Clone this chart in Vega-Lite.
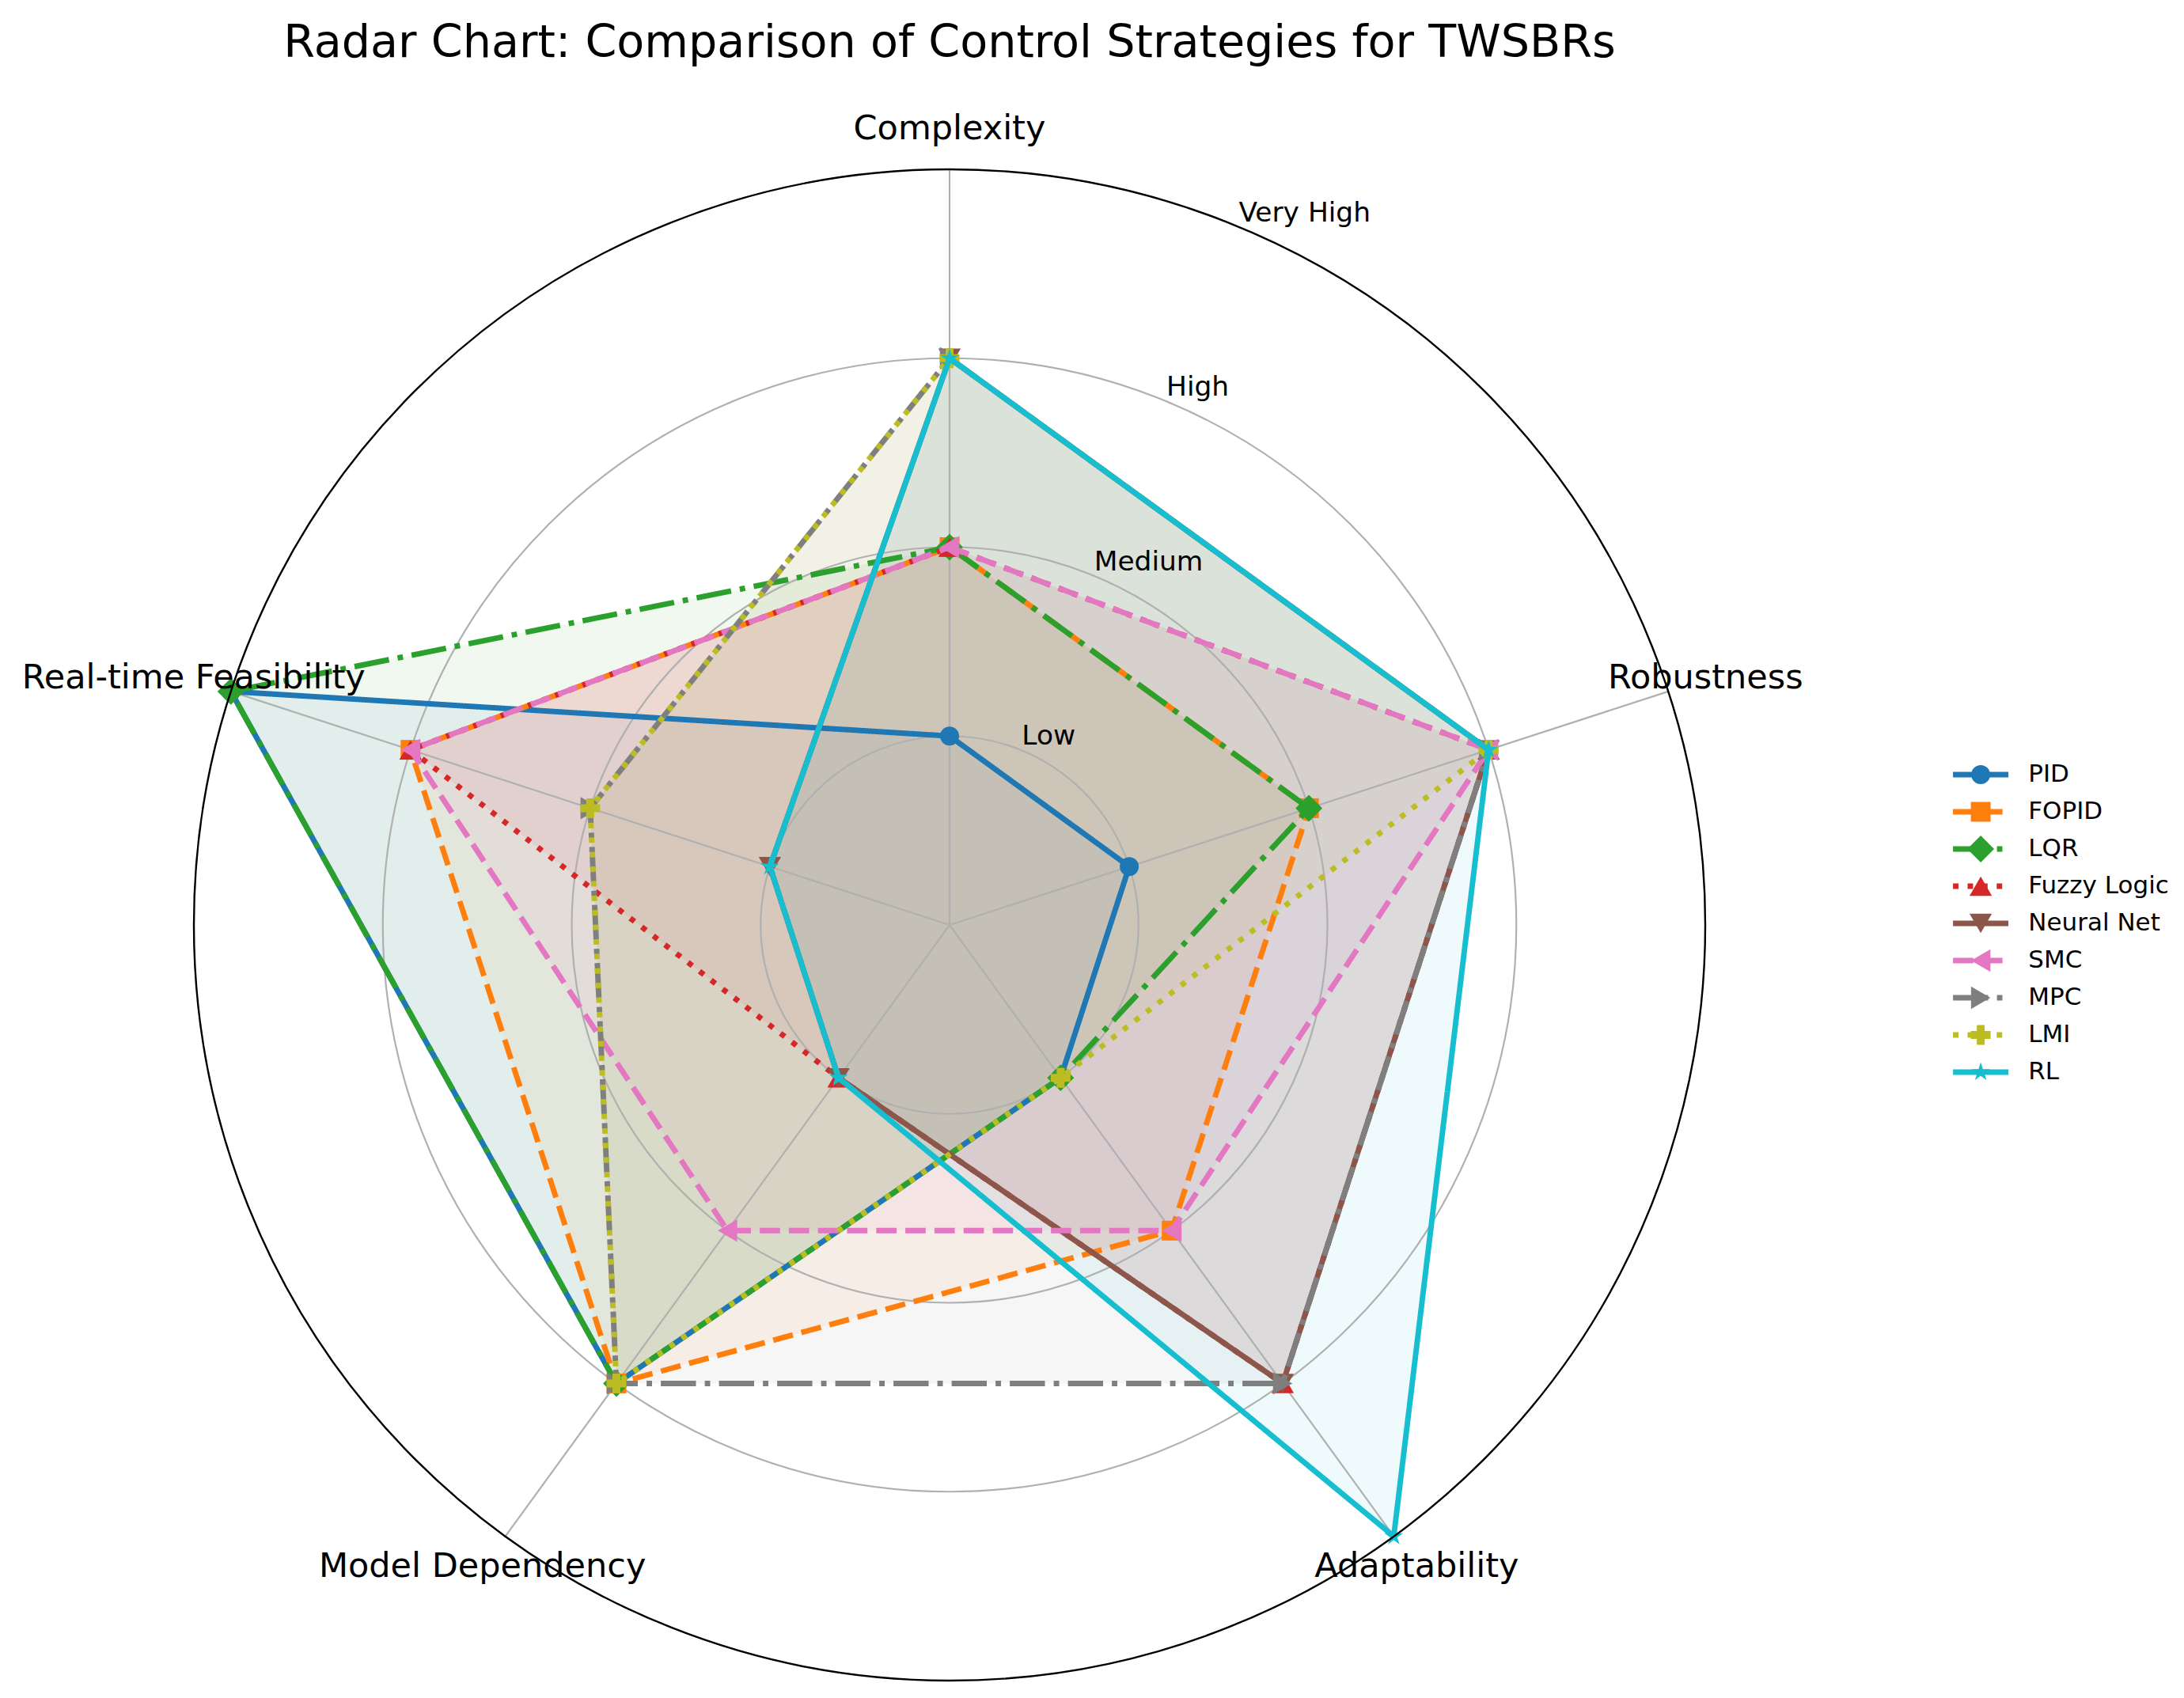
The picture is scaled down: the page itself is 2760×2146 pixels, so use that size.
{
  "$schema": "https://vega.github.io/schema/vega-lite/v6.json",
  "width": 2760,
  "height": 2046,
  "autosize": {"type": "none"},
  "padding": {"left": 0, "top": 100, "right": 0, "bottom": 0},
  "background": "white",
  "title": {"text": "Radar Chart: Comparison of Control Strategies for TWSBRs", "fontSize": 57.2, "font": "DejaVu Sans", "fontWeight": "normal", "color": "#000000", "anchor": "middle", "frame": "group", "dx": -180, "offset": 16},
  "config": {"view": {"stroke": null}, "font": "DejaVu Sans", "text": {"font": "DejaVu Sans"}},
  "datasets": {
    "ratings": [
      {"strategy": "PID", "criterion": "Complexity", "value": 1},
      {"strategy": "PID", "criterion": "Robustness", "value": 1},
      {"strategy": "PID", "criterion": "Adaptability", "value": 1},
      {"strategy": "PID", "criterion": "Model Dependency", "value": 3},
      {"strategy": "PID", "criterion": "Real-time Feasibility", "value": 4},
      {"strategy": "FOPID", "criterion": "Complexity", "value": 2},
      {"strategy": "FOPID", "criterion": "Robustness", "value": 2},
      {"strategy": "FOPID", "criterion": "Adaptability", "value": 2},
      {"strategy": "FOPID", "criterion": "Model Dependency", "value": 3},
      {"strategy": "FOPID", "criterion": "Real-time Feasibility", "value": 3},
      {"strategy": "LQR", "criterion": "Complexity", "value": 2},
      {"strategy": "LQR", "criterion": "Robustness", "value": 2},
      {"strategy": "LQR", "criterion": "Adaptability", "value": 1},
      {"strategy": "LQR", "criterion": "Model Dependency", "value": 3},
      {"strategy": "LQR", "criterion": "Real-time Feasibility", "value": 4},
      {"strategy": "Fuzzy Logic", "criterion": "Complexity", "value": 2},
      {"strategy": "Fuzzy Logic", "criterion": "Robustness", "value": 3},
      {"strategy": "Fuzzy Logic", "criterion": "Adaptability", "value": 3},
      {"strategy": "Fuzzy Logic", "criterion": "Model Dependency", "value": 1},
      {"strategy": "Fuzzy Logic", "criterion": "Real-time Feasibility", "value": 3},
      {"strategy": "Neural Net", "criterion": "Complexity", "value": 3},
      {"strategy": "Neural Net", "criterion": "Robustness", "value": 3},
      {"strategy": "Neural Net", "criterion": "Adaptability", "value": 3},
      {"strategy": "Neural Net", "criterion": "Model Dependency", "value": 1},
      {"strategy": "Neural Net", "criterion": "Real-time Feasibility", "value": 1},
      {"strategy": "SMC", "criterion": "Complexity", "value": 2},
      {"strategy": "SMC", "criterion": "Robustness", "value": 3},
      {"strategy": "SMC", "criterion": "Adaptability", "value": 2},
      {"strategy": "SMC", "criterion": "Model Dependency", "value": 2},
      {"strategy": "SMC", "criterion": "Real-time Feasibility", "value": 3},
      {"strategy": "MPC", "criterion": "Complexity", "value": 3},
      {"strategy": "MPC", "criterion": "Robustness", "value": 3},
      {"strategy": "MPC", "criterion": "Adaptability", "value": 3},
      {"strategy": "MPC", "criterion": "Model Dependency", "value": 3},
      {"strategy": "MPC", "criterion": "Real-time Feasibility", "value": 2},
      {"strategy": "LMI", "criterion": "Complexity", "value": 3},
      {"strategy": "LMI", "criterion": "Robustness", "value": 3},
      {"strategy": "LMI", "criterion": "Adaptability", "value": 1},
      {"strategy": "LMI", "criterion": "Model Dependency", "value": 3},
      {"strategy": "LMI", "criterion": "Real-time Feasibility", "value": 2},
      {"strategy": "RL", "criterion": "Complexity", "value": 3},
      {"strategy": "RL", "criterion": "Robustness", "value": 3},
      {"strategy": "RL", "criterion": "Adaptability", "value": 4},
      {"strategy": "RL", "criterion": "Model Dependency", "value": 1},
      {"strategy": "RL", "criterion": "Real-time Feasibility", "value": 1}
    ],
    "criteria": [
      {"criterion": "Complexity"},
      {"criterion": "Robustness"},
      {"criterion": "Adaptability"},
      {"criterion": "Model Dependency"},
      {"criterion": "Real-time Feasibility"}
    ],
    "levels": [
      {"level": 1, "label": "Low"},
      {"level": 2, "label": "Medium"},
      {"level": 3, "label": "High"},
      {"level": 4, "label": "Very High"}
    ]
  },
  "layer": [
    {
      "layer": [
        {
          "data": {"name": "ratings"},
          "transform": [
            {"calculate": "indexof(['Complexity','Robustness','Adaptability','Model Dependency','Real-time Feasibility'], datum.criterion)", "as": "idx"},
            {"calculate": "PI/2 - datum.idx * 2 * PI / 5", "as": "angle"},
            {"calculate": "datum.value * cos(datum.angle)", "as": "px"},
            {"calculate": "datum.value * sin(datum.angle)", "as": "py"}
          ],
          "mark": {"type": "line", "interpolate": "linear-closed", "strokeWidth": 0, "strokeOpacity": 0, "fillOpacity": 0.07},
          "encoding": {
            "x": {"field": "px", "type": "quantitative", "scale": {"domain": [-5.0262, 6.534], "nice": false, "zero": false}, "axis": null},
            "y": {"field": "py", "type": "quantitative", "scale": {"domain": [-4.0921, 4.4775], "nice": false, "zero": false}, "axis": null},
            "fill": {"field": "strategy", "type": "nominal", "legend": null, "scale": {"domain": ["PID","FOPID","LQR","Fuzzy Logic","Neural Net","SMC","MPC","LMI","RL"], "range": ["#1f77b4","#ff7f0e","#2ca02c","#d62728","#8c564b","#e377c2","#7f7f7f","#bcbd22","#17becf"]}},
            "detail": {"field": "strategy", "type": "nominal"},
            "order": {"field": "idx", "type": "quantitative"}
          }
        },
        {
          "data": {"name": "levels"},
          "transform": [{"filter": "datum.level < 4"}],
          "mark": {"type": "arc", "filled": false, "stroke": "#b0b0b0", "strokeWidth": 2.2, "theta": 0, "theta2": 6.2832},
          "encoding": {
            "x": {"datum": 0, "type": "quantitative", "scale": {"domain": [-5.0262, 6.534], "nice": false, "zero": false}, "axis": null},
            "y": {"datum": 0, "type": "quantitative", "scale": {"domain": [-4.0921, 4.4775], "nice": false, "zero": false}, "axis": null},
            "radius": {"field": "level", "type": "quantitative", "stack": null, "scale": {"type": "linear", "domain": [0, 4], "range": [0, 955], "zero": true, "nice": false}, "legend": null}
          }
        },
        {
          "data": {"name": "criteria"},
          "transform": [
            {"calculate": "PI/2 - indexof(['Complexity','Robustness','Adaptability','Model Dependency','Real-time Feasibility'], datum.criterion) * 2 * PI / 5", "as": "angle"},
            {"calculate": "4 * cos(datum.angle)", "as": "ex"},
            {"calculate": "4 * sin(datum.angle)", "as": "ey"}
          ],
          "mark": {"type": "rule", "stroke": "#b0b0b0", "strokeWidth": 2.2},
          "encoding": {
            "x": {"field": "ex", "type": "quantitative", "scale": {"domain": [-5.0262, 6.534], "nice": false, "zero": false}, "axis": null},
            "y": {"field": "ey", "type": "quantitative", "scale": {"domain": [-4.0921, 4.4775], "nice": false, "zero": false}, "axis": null},
            "x2": {"datum": 0},
            "y2": {"datum": 0}
          }
        },
        {
          "data": {"name": "ratings"},
          "transform": [
            {"calculate": "indexof(['Complexity','Robustness','Adaptability','Model Dependency','Real-time Feasibility'], datum.criterion)", "as": "idx"},
            {"calculate": "PI/2 - datum.idx * 2 * PI / 5", "as": "angle"},
            {"calculate": "datum.value * cos(datum.angle)", "as": "px"},
            {"calculate": "datum.value * sin(datum.angle)", "as": "py"}
          ],
          "encoding": {
            "x": {"field": "px", "type": "quantitative", "scale": {"domain": [-5.0262, 6.534], "nice": false, "zero": false}, "axis": null},
            "y": {"field": "py", "type": "quantitative", "scale": {"domain": [-4.0921, 4.4775], "nice": false, "zero": false}, "axis": null},
            "color": {"field": "strategy", "type": "nominal", "legend": null, "scale": {"domain": ["PID","FOPID","LQR","Fuzzy Logic","Neural Net","SMC","MPC","LMI","RL"], "range": ["#1f77b4","#ff7f0e","#2ca02c","#d62728","#8c564b","#e377c2","#7f7f7f","#bcbd22","#17becf"]}},
            "strokeDash": {"field": "strategy", "type": "nominal", "legend": null, "scale": {"domain": ["PID","FOPID","LQR","Fuzzy Logic","Neural Net","SMC","MPC","LMI","RL"], "range": [[1,0],[25.7,11.1],[44.4,11.1,6.9,11.1],[6.9,11.5],[1,0],[25.7,11.1],[44.4,11.1,6.9,11.1],[6.9,11.5],[1,0]]}},
            "shape": {"field": "strategy", "type": "nominal", "legend": null, "scale": {"domain": ["PID","FOPID","LQR","Fuzzy Logic","Neural Net","SMC","MPC","LMI","RL"], "range": ["circle","square","diamond","triangle-up","triangle-down","triangle-left","triangle-right","cross","M0,-1L0.2245,-0.309L0.951,-0.309L0.363,0.118L0.588,0.809L0,0.382L-0.588,0.809L-0.363,0.118L-0.951,-0.309L-0.2245,-0.309Z"]}},
            "size": {"field": "strategy", "type": "nominal", "legend": null, "scale": {"type": "ordinal", "domain": ["PID","FOPID","LQR","Fuzzy Logic","Neural Net","SMC","MPC","LMI","RL"], "range": [576,625,1150,800,800,800,800,625,615]}},
            "order": {"field": "idx", "type": "quantitative"}
          },
          "layer": [
            {"transform": [{"filter": "datum.strategy === 'PID'"}], "layer": [
              {"mark": {"type": "line", "interpolate": "linear-closed"}, "encoding": {"size": {"value": 6.94}}},
              {"mark": {"type": "point", "filled": true, "opacity": 1, "strokeWidth": 0}}
            ]},
            {"transform": [{"filter": "datum.strategy === 'FOPID'"}], "layer": [
              {"mark": {"type": "line", "interpolate": "linear-closed"}, "encoding": {"size": {"value": 6.94}}},
              {"mark": {"type": "point", "filled": true, "opacity": 1, "strokeWidth": 0}}
            ]},
            {"transform": [{"filter": "datum.strategy === 'LQR'"}], "layer": [
              {"mark": {"type": "line", "interpolate": "linear-closed"}, "encoding": {"size": {"value": 6.94}}},
              {"mark": {"type": "point", "filled": true, "opacity": 1, "strokeWidth": 0}}
            ]},
            {"transform": [{"filter": "datum.strategy === 'Fuzzy Logic'"}], "layer": [
              {"mark": {"type": "line", "interpolate": "linear-closed"}, "encoding": {"size": {"value": 6.94}}},
              {"mark": {"type": "point", "filled": true, "opacity": 1, "strokeWidth": 0}}
            ]},
            {"transform": [{"filter": "datum.strategy === 'Neural Net'"}], "layer": [
              {"mark": {"type": "line", "interpolate": "linear-closed"}, "encoding": {"size": {"value": 6.94}}},
              {"mark": {"type": "point", "filled": true, "opacity": 1, "strokeWidth": 0}}
            ]},
            {"transform": [{"filter": "datum.strategy === 'SMC'"}], "layer": [
              {"mark": {"type": "line", "interpolate": "linear-closed"}, "encoding": {"size": {"value": 6.94}}},
              {"mark": {"type": "point", "filled": true, "opacity": 1, "strokeWidth": 0}}
            ]},
            {"transform": [{"filter": "datum.strategy === 'MPC'"}], "layer": [
              {"mark": {"type": "line", "interpolate": "linear-closed"}, "encoding": {"size": {"value": 6.94}}},
              {"mark": {"type": "point", "filled": true, "opacity": 1, "strokeWidth": 0}}
            ]},
            {"transform": [{"filter": "datum.strategy === 'LMI'"}], "layer": [
              {"mark": {"type": "line", "interpolate": "linear-closed"}, "encoding": {"size": {"value": 6.94}}},
              {"mark": {"type": "point", "filled": true, "opacity": 1, "strokeWidth": 0}}
            ]},
            {"transform": [{"filter": "datum.strategy === 'RL'"}], "layer": [
              {"mark": {"type": "line", "interpolate": "linear-closed"}, "encoding": {"size": {"value": 6.94}}},
              {"mark": {"type": "point", "filled": true, "opacity": 1, "strokeWidth": 0}}
            ]}
          ]
        },
        {
          "data": {"name": "levels"},
          "transform": [{"filter": "datum.level == 4"}],
          "mark": {"type": "arc", "filled": false, "stroke": "#000000", "strokeWidth": 2.4, "theta": 0, "theta2": 6.2832},
          "encoding": {
            "x": {"datum": 0, "type": "quantitative", "scale": {"domain": [-5.0262, 6.534], "nice": false, "zero": false}, "axis": null},
            "y": {"datum": 0, "type": "quantitative", "scale": {"domain": [-4.0921, 4.4775], "nice": false, "zero": false}, "axis": null},
            "radius": {"field": "level", "type": "quantitative", "stack": null, "scale": {"type": "linear", "domain": [0, 4], "range": [0, 955], "zero": true, "nice": false}, "legend": null}
          }
        },
        {
          "data": {"name": "criteria"},
          "transform": [
            {"calculate": "PI/2 - indexof(['Complexity','Robustness','Adaptability','Model Dependency','Real-time Feasibility'], datum.criterion) * 2 * PI / 5", "as": "angle"},
            {"calculate": "4.207 * cos(datum.angle)", "as": "lx"},
            {"calculate": "4.207 * sin(datum.angle)", "as": "ly"}
          ],
          "mark": {"type": "text", "align": "center", "baseline": "middle", "fontSize": 43, "color": "#000000", "dy": -1.5},
          "encoding": {
            "x": {"field": "lx", "type": "quantitative", "scale": {"domain": [-5.0262, 6.534], "nice": false, "zero": false}, "axis": null},
            "y": {"field": "ly", "type": "quantitative", "scale": {"domain": [-4.0921, 4.4775], "nice": false, "zero": false}, "axis": null},
            "text": {"field": "criterion"}
          }
        },
        {
          "data": {"name": "levels"},
          "transform": [
            {"calculate": "datum.level * cos(3 * PI / 8)", "as": "rx"},
            {"calculate": "datum.level * sin(3 * PI / 8)", "as": "ry"}
          ],
          "mark": {"type": "text", "align": "left", "baseline": "bottom", "fontSize": 34.4, "color": "#000000"},
          "encoding": {
            "x": {"field": "rx", "type": "quantitative", "scale": {"domain": [-5.0262, 6.534], "nice": false, "zero": false}, "axis": null},
            "y": {"field": "ry", "type": "quantitative", "scale": {"domain": [-4.0921, 4.4775], "nice": false, "zero": false}, "axis": null},
            "text": {"field": "label"}
          }
        }
      ]
    },
    {
      "data": {"name": "ratings"},
      "transform": [{"filter": "datum.criterion === 'Complexity'"}],
      "encoding": {
        "y": {"field": "strategy", "type": "nominal", "axis": null, "scale": {"type": "point", "domain": ["PID","FOPID","LQR","Fuzzy Logic","Neural Net","SMC","MPC","LMI","RL"], "range": [879, 1255], "padding": 0}},
        "color": {"field": "strategy", "type": "nominal", "legend": null, "scale": {"domain": ["PID","FOPID","LQR","Fuzzy Logic","Neural Net","SMC","MPC","LMI","RL"], "range": ["#1f77b4","#ff7f0e","#2ca02c","#d62728","#8c564b","#e377c2","#7f7f7f","#bcbd22","#17becf"]}}
      },
      "layer": [
        {
          "mark": {"type": "point", "shape": "stroke", "filled": false, "opacity": 1, "strokeWidth": 6.94, "size": 4900},
          "encoding": {
            "x": {"datum": 5.458, "type": "quantitative", "scale": {"domain": [-5.0262, 6.534], "nice": false, "zero": false}, "axis": null},
            "strokeDash": {"field": "strategy", "type": "nominal", "legend": null, "scale": {"domain": ["PID","FOPID","LQR","Fuzzy Logic","Neural Net","SMC","MPC","LMI","RL"], "range": [[1,0],[25.7,11.1],[44.4,11.1,6.9,11.1],[6.9,11.5],[1,0],[25.7,11.1],[44.4,11.1,6.9,11.1],[6.9,11.5],[1,0]]}}
          }
        },
        {
          "mark": {"type": "point", "filled": true, "opacity": 1, "strokeWidth": 0},
          "encoding": {
            "x": {"datum": 5.458, "type": "quantitative", "scale": {"domain": [-5.0262, 6.534], "nice": false, "zero": false}, "axis": null},
            "shape": {"field": "strategy", "type": "nominal", "legend": null, "scale": {"domain": ["PID","FOPID","LQR","Fuzzy Logic","Neural Net","SMC","MPC","LMI","RL"], "range": ["circle","square","diamond","triangle-up","triangle-down","triangle-left","triangle-right","cross","M0,-1L0.2245,-0.309L0.951,-0.309L0.363,0.118L0.588,0.809L0,0.382L-0.588,0.809L-0.363,0.118L-0.951,-0.309L-0.2245,-0.309Z"]}},
            "size": {"field": "strategy", "type": "nominal", "legend": null, "scale": {"type": "ordinal", "domain": ["PID","FOPID","LQR","Fuzzy Logic","Neural Net","SMC","MPC","LMI","RL"], "range": [576,625,1150,800,800,800,800,625,615]}}
          }
        },
        {
          "mark": {"type": "text", "align": "left", "baseline": "middle", "fontSize": 31},
          "encoding": {
            "x": {"datum": 5.71, "type": "quantitative", "scale": {"domain": [-5.0262, 6.534], "nice": false, "zero": false}, "axis": null},
            "text": {"field": "strategy"},
            "color": {"value": "#000000"}
          }
        }
      ]
    }
  ],
  "resolve": {"scale": {"y": "independent"}}
}
